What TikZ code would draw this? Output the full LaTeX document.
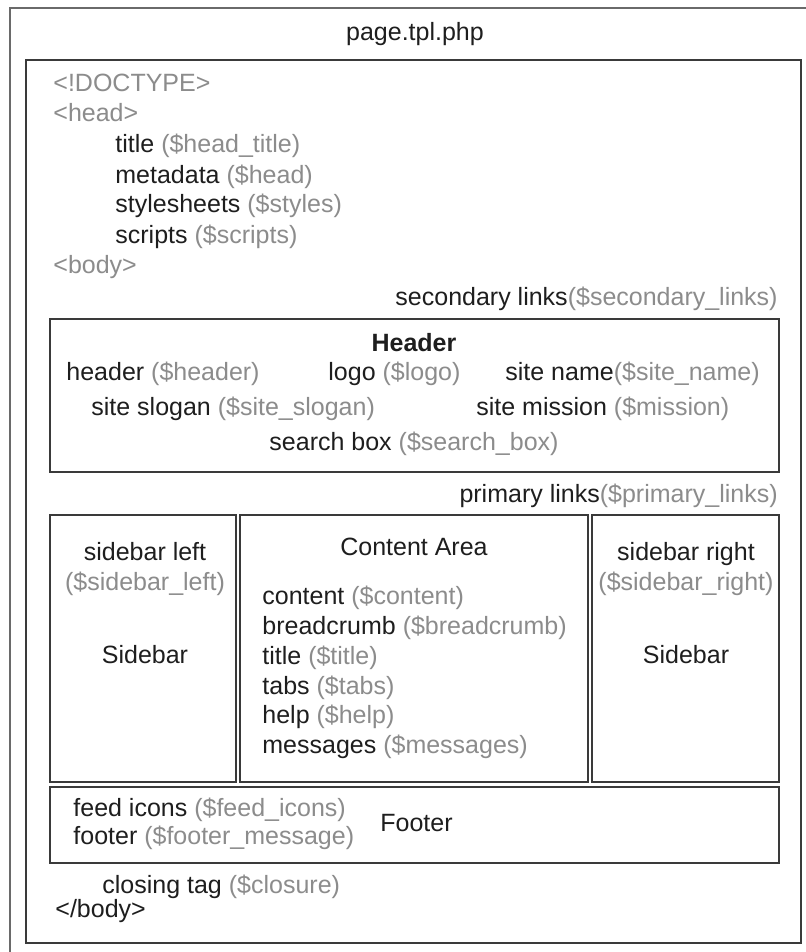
\documentclass[tikz,border=0pt]{standalone}
\usepackage{fontspec}
\setmainfont{Liberation Sans}
\definecolor{txt}{HTML}{1E1E1E}
\definecolor{gry}{HTML}{8C8C8C}
\definecolor{frame}{HTML}{3A3A3A}
\definecolor{outerc}{HTML}{6A6A6A}
\newcommand{\gtxt}[1]{\textcolor{gry}{#1}}
\begin{document}
\begin{tikzpicture}[x=0.5pt,y=-0.5pt,
  t/.style={inner sep=0pt, text=txt, font=\fontsize{12.5}{15}\selectfont},
  tg/.style={t, text=gry},
  frameline/.style={draw=frame, line width=1pt},
  outerline/.style={draw=outerc, line width=1.3pt}]
\useasboundingbox (0,0) rectangle (806,952);
\fill[white] (0,0) rectangle (806,952);
\clip (0,0) rectangle (806,952);
% frames
\draw[outerline] (10,8) rectangle (830,980);
\draw[frameline] (26,60) rectangle (801,943);
\draw[frameline] (50,319) rectangle (779,472);
\draw[frameline] (50,515) rectangle (236,782);
\draw[frameline] (240,515) rectangle (588,782);
\draw[frameline] (592,515) rectangle (779,782);
\draw[frameline] (50,787) rectangle (779,863);
% title
\node[t, anchor=base] (pagetitle) at (415,41) {page.tpl.php};
% head section
\node[tg, anchor=base west] (doctype) at (53,92) {<!DOCTYPE>};
\node[tg, anchor=base west] (headopen) at (53,122) {<head>};
\node[t, anchor=base west] (htitle) at (115,153) {title \gtxt{(\$head\_title)}};
\node[t, anchor=base west] (hmeta) at (115,184) {metadata \gtxt{(\$head)}};
\node[t, anchor=base west] (hstyles) at (115,213) {stylesheets \gtxt{(\$styles)}};
\node[t, anchor=base west] (hscripts) at (115,243) {scripts \gtxt{(\$scripts)}};
\node[tg, anchor=base west] (bodyopen) at (53,273) {<body>};
\node[t, anchor=base east] (seclinks) at (778,305) {secondary links\gtxt{(\$secondary\_links)}};
% header box
\node[t, anchor=base] (headertitle) at (414,351) {\bfseries Header};
\node[t, anchor=base west] (hdr) at (66,380) {header \gtxt{(\$header)}};
\node[t, anchor=base west] (logo) at (328,380) {logo \gtxt{(\$logo)}};
\node[t, anchor=base west] (sitename) at (505,380) {site name\gtxt{(\$site\_name)}};
\node[t, anchor=base west] (slogan) at (91,415) {site slogan \gtxt{(\$site\_slogan)}};
\node[t, anchor=base west] (mission) at (476,415) {site mission \gtxt{(\$mission)}};
\node[t, anchor=base] (search) at (414,450) {search box \gtxt{(\$search\_box)}};
\node[t, anchor=base east] (primlinks) at (778,502) {primary links\gtxt{(\$primary\_links)}};
% left sidebar
\node[t, anchor=base] (sbl1) at (145,560) {sidebar left};
\node[tg, anchor=base] (sbl2) at (145,590) {(\$sidebar\_left)};
\node[t, anchor=base] (sbl3) at (145,663) {Sidebar};
% content
\node[t, anchor=base] (carea) at (414,555) {Content Area};
\node[t, anchor=base west] (c1) at (262,604) {content \gtxt{(\$content)}};
\node[t, anchor=base west] (c2) at (262,634) {breadcrumb \gtxt{(\$breadcrumb)}};
\node[t, anchor=base west] (c3) at (262,664) {title \gtxt{(\$title)}};
\node[t, anchor=base west] (c4) at (262,694) {tabs \gtxt{(\$tabs)}};
\node[t, anchor=base west] (c5) at (262,723) {help \gtxt{(\$help)}};
\node[t, anchor=base west] (c6) at (262,753) {messages \gtxt{(\$messages)}};
% right sidebar
\node[t, anchor=base] (sbr1) at (686,560) {sidebar right};
\node[tg, anchor=base] (sbr2) at (686,590) {(\$sidebar\_right)};
\node[t, anchor=base] (sbr3) at (686,663) {Sidebar};
% footer
\node[t, anchor=base west] (feed) at (73,816) {feed icons \gtxt{(\$feed\_icons)}};
\node[t, anchor=base west] (footmsg) at (73,844) {footer \gtxt{(\$footer\_message)}};
\node[t, anchor=base west] (footer) at (380,831) {Footer};
% closing
\node[t, anchor=base west] (closing) at (102,893) {closing tag \gtxt{(\$closure)}};
\node[t, anchor=base west] (bodyclose) at (55,917) {</body>};
\end{tikzpicture}
\end{document}
